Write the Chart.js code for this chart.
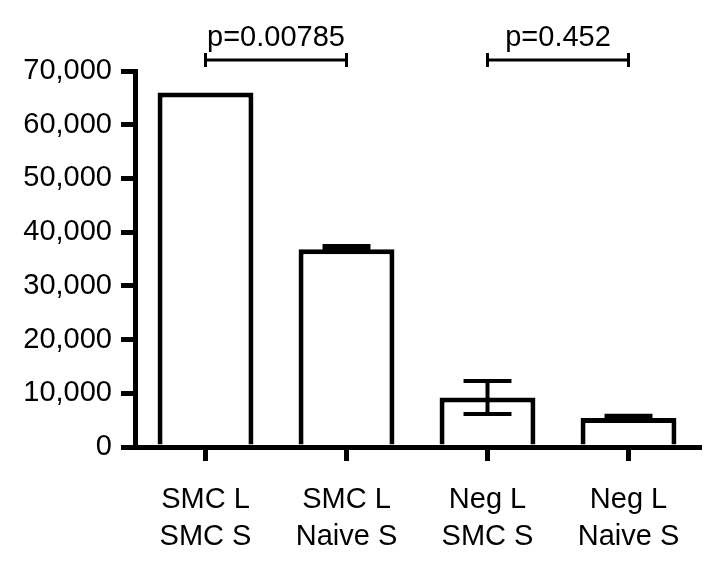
<!DOCTYPE html>
<html>
<head>
<meta charset="utf-8">
<script src="https://cdn.jsdelivr.net/npm/chart.js@4.4.0/dist/chart.umd.min.js"></script>
<style>
  html, body { margin: 0; padding: 0; background: #fff; }
  #wrap { width: 725px; height: 575px; }
</style>
</head>
<body>
<div id="wrap"><canvas id="chart" width="725" height="575"></canvas></div>
<script>
// Data
const categories = [["SMC L", "SMC S"], ["SMC L", "Naive S"], ["Neg L", "SMC S"], ["Neg L", "Naive S"]];
const means = [66000, 36800, 9200, 5400];
const errLow = [66000, 36800, 6150, 5400];
const errHigh = [66000, 37400, 12300, 5800];
const yTicks = [0, 10000, 20000, 30000, 40000, 50000, 60000, 70000];
const compPairs = [[0, 1], [2, 3]];
const compLabels = ["p=0.00785", "p=0.452"];

const FONT = "'Liberation Sans', Arial, Helvetica, sans-serif";

// error bars + significance brackets
const extrasPlugin = {
    id: "extras",
    afterDatasetsDraw(chart) {
        const ctx = chart.ctx;
        const x = chart.scales.x;
        const y = chart.scales.y;
        const meta = chart.getDatasetMeta(0);
        ctx.save();
        ctx.strokeStyle = "#000";
        ctx.lineWidth = 4;
        ctx.lineCap = "butt";

        meta.data.forEach((bar, i) => {
            if (errHigh[i] === errLow[i]) return;
            const cx = bar.x;
            const half = bar.width * 0.25;
            const yHi = y.getPixelForValue(errHigh[i]);
            const yLo = y.getPixelForValue(errLow[i]);
            ctx.beginPath();
            ctx.moveTo(cx, yHi); ctx.lineTo(cx, yLo);
            ctx.moveTo(cx - half, yHi); ctx.lineTo(cx + half, yHi);
            ctx.moveTo(cx - half, yLo); ctx.lineTo(cx + half, yLo);
            ctx.stroke();
        });

        // brackets above the plot
        const by = chart.chartArea.top - 11;
        ctx.lineWidth = 3;
        ctx.fillStyle = "#000";
        ctx.font = "29px " + FONT;
        ctx.textAlign = "center";
        ctx.textBaseline = "alphabetic";
        compPairs.forEach((pair, k) => {
            const x1 = x.getPixelForValue(pair[0]);
            const x2 = x.getPixelForValue(pair[1]);
            ctx.beginPath();
            ctx.moveTo(x1, by); ctx.lineTo(x2, by);
            ctx.moveTo(x1, by - 7); ctx.lineTo(x1, by + 7);
            ctx.moveTo(x2, by - 7); ctx.lineTo(x2, by + 7);
            ctx.stroke();
            ctx.fillText(compLabels[k], (x1 + x2) / 2, by - 14);
        });
        ctx.restore();
    }
};

new Chart(document.getElementById("chart"), {
    type: "bar",
    data: {
        labels: categories,
        datasets: [{
            data: means,
            backgroundColor: "#fff",
            borderColor: "#000",
            borderWidth: 5,
            barPercentage: 0.68,
            categoryPercentage: 1.0
        }]
    },
    options: {
        responsive: false,
        animation: false,
        layout: { padding: { top: 71, right: 26, left: 0, bottom: 0 } },
        plugins: { legend: { display: false }, tooltip: { enabled: false } },
        scales: {
            x: {
                afterFit(s) { s.height = 128; },
                grid: { display: true, drawOnChartArea: false, drawTicks: true, offset: false, tickLength: 14, lineWidth: 5, color: "#000" },
                border: { display: true, width: 5, color: "#000" },
                ticks: { color: "#000", padding: 20, font: { family: FONT, size: 29, lineHeight: 1.28 } }
            },
            y: {
                min: 0,
                max: 70000,
                afterFit(s) { s.width = 135; },
                afterBuildTicks(s) { s.ticks = yTicks.map(v => ({ value: v })); },
                grid: { display: true, drawOnChartArea: false, drawTicks: true, tickLength: 14, lineWidth: 5, color: "#000" },
                border: { display: true, width: 5, color: "#000" },
                ticks: {
                    color: "#000",
                    padding: 9,
                    font: { family: FONT, size: 29 },
                    callback: v => v.toLocaleString("en-US")
                }
            }
        }
    },
    plugins: [extrasPlugin]
});
</script>
</body>
</html>
